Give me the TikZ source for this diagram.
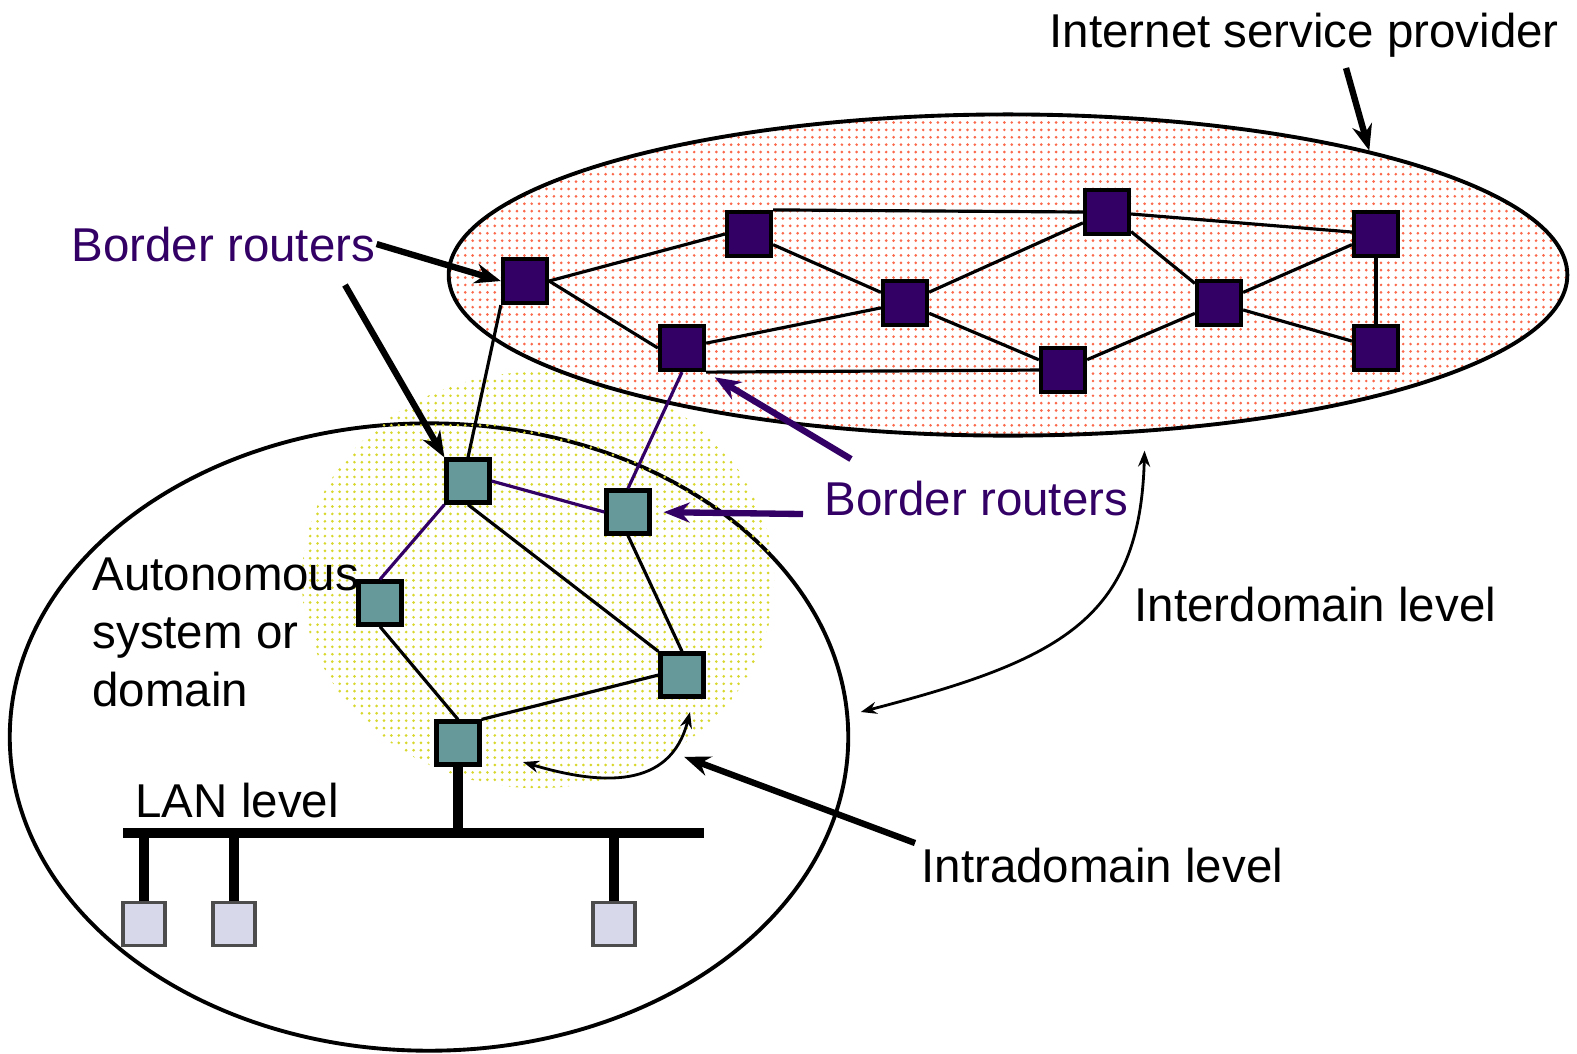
\documentclass[tikz,border=0pt]{standalone}
\usepackage{fontspec}
\setmainfont{Liberation Sans}
\usetikzlibrary{positioning,arrows.meta,patterns.meta,shapes.geometric}

\definecolor{corepurple}{RGB}{51,0,102}
\definecolor{asteal}{RGB}{102,153,153}
\definecolor{hostgray}{RGB}{216,216,235}
\definecolor{ispdot}{RGB}{250,105,75}
\definecolor{asdot}{RGB}{215,215,45}

\begin{document}
\begin{tikzpicture}[
    x=0.01cm,
    y=-0.01cm,
    >=Stealth,
    line width=0.9pt,
    font=\fontsize{13.5}{16.5}\selectfont
]

\tikzstyle{core}=[
    rectangle,
    draw,
    fill=corepurple,
    minimum size=0.44cm,
    inner sep=0pt,
    line width=1.2pt
]
\tikzstyle{edge}=[
    rectangle,
    draw,
    fill=asteal,
    minimum size=0.43cm,
    inner sep=0pt,
    line width=1.2pt
]
\tikzstyle{host}=[
    rectangle,
    draw=black!70,
    fill=hostgray,
    minimum width=0.42cm,
    minimum height=0.43cm,
    inner sep=0pt,
    line width=1pt
]
\tikzstyle{label}=[inner sep=0pt, anchor=base west]
\tikzstyle{bigarrow}=[->, line width=1.8pt, >={Stealth[length=0.26cm, width=0.2cm]}]
\tikzstyle{thinarrow}=[<->, line width=0.8pt, >={Stealth[length=0.16cm, width=0.12cm]}]

\useasboundingbox (0,0) rectangle (1577,1053);

% regions
\node[ellipse, draw, minimum width=8.38cm, minimum height=6.27cm, line width=1.1pt] (as) at (429,737) {};
\node[ellipse, pattern={Dots[radius=0.42pt, distance=2.1pt]}, pattern color=asdot,
      minimum width=4.72cm, minimum height=4.16cm] (dom) at (538,580) {};
\node[ellipse, draw, pattern={Dots[radius=0.42pt, distance=2.1pt]}, pattern color=ispdot,
      minimum width=11.18cm, minimum height=3.21cm, line width=1.1pt] (isp) at (1008,275) {};

% ISP routers
\node[core] (r1) at (525,281) {};
\node[core] (r2) at (749,234) {};
\node[core] (r3) at (1107,212) {};
\node[core] (r4) at (1376,234) {};
\node[core] (r5) at (682,348) {};
\node[core] (r6) at (905,303) {};
\node[core] (r7) at (1219,303) {};
\node[core] (r8) at (1063,370) {};
\node[core] (r9) at (1376,348) {};

% domain routers
\node[edge] (a1) at (468,481) {};
\node[edge] (a2) at (628,512) {};
\node[edge] (a3) at (380,603) {};
\node[edge] (a4) at (682,675) {};
\node[edge] (a5) at (458,743) {};

% hosts
\node[host] (h1) at (144,924) {};
\node[host] (h2) at (234,924) {};
\node[host] (h3) at (614,924) {};

\coordinate (busl) at (123,833);
\coordinate (busr) at (704,833);

\draw (r1.east) -- (r2.west);
\draw (r1.east) -- (r5.west);
\draw (r2.north east) -- (r3.west);
\draw (r2) -- (r6);
\draw (r3) -- (r6);
\draw (r3) -- (r4);
\draw (r3) -- (r7);
\draw (r4) -- (r7);
\draw (r4) -- (r9);
\draw (r7) -- (r9);
\draw (r7) -- (r8);
\draw (r6) -- (r8);
\draw (r5) -- (r6);
\draw (r5.south east) -- (r8.west);

\draw[corepurple] (a1.east) -- (a2.west);
\draw[corepurple] (a1.south west) -- (a3.north);
\draw (a1.south) -- (a4.north west);
\draw (a2.south) -- (a4.north);
\draw (a3.south) -- (a5.north);
\draw (a5.north east) -- (a4.west);
\draw (a1.north) -- (r1.south west);
\draw[corepurple] (a2.north) -- (r5.south);

% LAN
\draw[line width=3pt] (busl) -- (busr);
\draw[line width=2.6pt] (a5.south) -- (a5.south |- busl);
\draw[line width=2.6pt] (h1.north) -- (h1.north |- busl);
\draw[line width=2.6pt] (h2.north) -- (h2.north |- busl);
\draw[line width=2.6pt] (h3.north) -- (h3.north |- busl);

% labels
\node[label] (ispl) at (1048,47) {Internet service provider};
\node[label, text=corepurple] (br1) at (70,261) {Border routers};
\node[label, text=corepurple] (br2) at (823,515) {Border routers};
\node[inner sep=0pt, anchor=north west, align=left] (asl) at (91,556) {Autonomous\\system or\\domain};
\node[label] (interl) at (1133,621) {Interdomain level};
\node[label] (lanl) at (134,817) {LAN level};
\node[label] (intral) at (920,882) {Intradomain level};

\coordinate (ispa) at (1346,68);
\coordinate (br1a) at (345,285);
\coordinate (br2a) at (803,514);
\coordinate (br2b) at (851,459);
\coordinate (intraa) at (915,843);
\coordinate (loopa) at (523,762);
\coordinate (loopb) at (690,712);

\draw[bigarrow] (ispa) -- (isp.19.7);
\draw[bigarrow] (br1.east) -- (r1.west);
\draw[bigarrow] (br1a) -- (a1.north west);
\draw[bigarrow, corepurple, shorten >=0.12cm] (br2a) -- (a2.east);
\draw[bigarrow, corepurple, shorten >=0.1cm] (br2b) -- (r5.south east);
\draw[bigarrow, shorten >=0.12cm] (intraa) -- (dom.-52);

\draw[thinarrow, shorten <=0.12cm, shorten >=0.18cm] (as.3.5) .. controls (1060,660) and (1140,620) .. (isp.-49);
\draw[thinarrow] (loopa) .. controls (600,785) and (670,790) .. (loopb);

\end{tikzpicture}
\end{document}
